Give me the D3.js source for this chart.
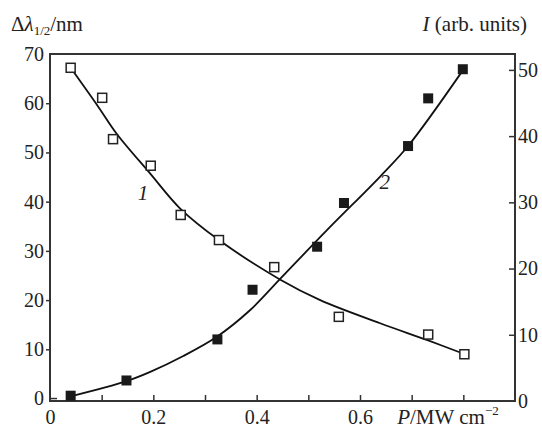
<!DOCTYPE html>
<html>
<head>
<meta charset="utf-8">
<script src="https://cdn.jsdelivr.net/npm/d3@7"></script>
<style>
    body { margin: 0; background: #fff; }
</style>
</head>
<body>
<script>
(function () {

    // curve 1: spectral width (open squares, left axis)
    const power1 = [0.040, 0.101, 0.122, 0.195, 0.253, 0.327, 0.434, 0.559, 0.732, 0.802];
    const width1 = [67.2, 61.1, 52.7, 47.3, 37.3, 32.2, 26.7, 16.6, 13.0, 9.0];
    const fitP1 = [0.040, 0.094, 0.129, 0.194, 0.252, 0.327, 0.445, 0.523, 0.639, 0.732, 0.803];
    const fitW1 = [67.2, 59.2, 53.8, 45.7, 38.6, 32.2, 24.2, 20.0, 15.3, 11.8, 9.0];

    // curve 2: intensity (filled squares, right axis)
    const power2 = [0.040, 0.148, 0.324, 0.392, 0.517, 0.569, 0.693, 0.732, 0.799];
    const inten2 = [0.8, 3.1, 9.3, 16.8, 23.3, 29.9, 38.5, 45.7, 50.1];
    const fitP2 = [0.040, 0.148, 0.194, 0.258, 0.323, 0.387, 0.445, 0.536, 0.639, 0.693, 0.797];
    const fitI2 = [0.7, 3.0, 4.4, 6.8, 9.7, 13.7, 18.4, 25.8, 33.9, 38.5, 49.7];

    const xTicks = [0.1, 0.2, 0.3, 0.4, 0.5, 0.6, 0.7, 0.8];
    const xLabels = [0, 0.2, 0.4, 0.6];
    const leftTicks = [0, 10, 20, 30, 40, 50, 60, 70];
    const rightTicks = [0, 10, 20, 30, 40, 50];

    const serif = '"Liberation Serif", "Times New Roman", Tinos, "DejaVu Serif", "Noto Serif", serif';

    const margin = {top: 54, bottom: 27, left: 50, right: 27};
    const width = 542 - margin.left - margin.right,
        height = 428 - margin.top - margin.bottom;

    const svg = d3.select('body')
        .append('svg')
        .attr('width', 542)
        .attr('height', 428)
        .style('font-family', serif)
        .append('g')
        .attr('transform', 'translate(' + margin.left + ', ' + margin.top + ')');

    const scaleX = d3.scaleLinear().domain([0, 0.9]).range([0, width]);
    const scaleL = d3.scaleLinear().domain([-0.5, 70]).range([height, 0]);
    const scaleR = d3.scaleLinear().domain([0, 52.4]).range([height, 0]);

    const fmt = d => (d === 0 ? '0' : d3.format('.1f')(d));

    // bottom ticks (inside) and labels
    const gxt = svg.append('g')
        .attr('transform', 'translate(0, ' + height + ')')
        .call(d3.axisBottom(scaleX).tickValues(xTicks).tickSize(-6).tickFormat(''));
    const gxl = svg.append('g')
        .attr('transform', 'translate(0, ' + height + ')')
        .call(d3.axisBottom(scaleX).tickValues(xLabels).tickSize(0).tickPadding(9).tickFormat(fmt));

    const gl = svg.append('g')
        .call(d3.axisLeft(scaleL).tickValues(leftTicks.slice(1, 7)).tickSize(4).tickPadding(2));
    const gl0 = svg.append('g')
        .call(d3.axisLeft(scaleL).tickValues([0, 70]).tickSize(0).tickPadding(6));
    // the zero tick points inward
    svg.append('line')
        .attr('x1', 0).attr('x2', 7)
        .attr('y1', scaleL(0)).attr('y2', scaleL(0))
        .attr('stroke', '#333').attr('stroke-width', 1.5);

    const gr = svg.append('g')
        .attr('transform', 'translate(' + width + ', 0)')
        .call(d3.axisRight(scaleR).tickValues(rightTicks).tickSize(-6).tickPadding(3));

    [gxt, gxl, gl, gl0, gr].forEach(g => {
        g.attr('font-family', serif);
        g.select('.domain').remove();
        g.selectAll('line').attr('stroke', '#333').attr('stroke-width', 1.5);
        g.selectAll('text').attr('font-size', 20).attr('fill', '#222').style('font-family', serif);
    });
    gr.selectAll('.tick').filter(d => d === 0).select('line').remove();

    // frame
    svg.append('rect')
        .attr('width', width).attr('height', height)
        .attr('fill', 'none').attr('stroke', '#333').attr('stroke-width', 2);

    // fitted curves
    const line1 = d3.line()
        .x(d => scaleX(d[0])).y(d => scaleL(d[1]))
        .curve(d3.curveCatmullRom.alpha(0.5));
    const line2 = d3.line()
        .x(d => scaleX(d[0])).y(d => scaleR(d[1]))
        .curve(d3.curveCatmullRom.alpha(0.5));

    svg.append('path')
        .attr('d', line1(fitP1.map((p, i) => [p, fitW1[i]])))
        .attr('fill', 'none').attr('stroke', '#111').attr('stroke-width', 1.8);
    svg.append('path')
        .attr('d', line2(fitP2.map((p, i) => [p, fitI2[i]])))
        .attr('fill', 'none').attr('stroke', '#111').attr('stroke-width', 1.8);

    const s = 9;
    svg.selectAll('.open')
        .data(power1.map((p, i) => [p, width1[i]]))
        .enter().append('rect')
        .attr('x', d => scaleX(d[0]) - s / 2)
        .attr('y', d => scaleL(d[1]) - s / 2)
        .attr('width', s).attr('height', s)
        .attr('fill', '#fff').attr('stroke', '#222').attr('stroke-width', 1.5);

    svg.selectAll('.filled')
        .data(power2.map((p, i) => [p, inten2[i]]))
        .enter().append('rect')
        .attr('x', d => scaleX(d[0]) - (s + 1) / 2)
        .attr('y', d => scaleR(d[1]) - (s + 1) / 2)
        .attr('width', s + 1).attr('height', s + 1)
        .attr('fill', '#1a1a1a');

    // curve numbers
    svg.append('text')
        .attr('x', scaleX(0.180)).attr('y', scaleL(40.3))
        .attr('text-anchor', 'middle').attr('font-size', 21).attr('font-style', 'italic')
        .attr('fill', '#222')
        .text('1');
    svg.append('text')
        .attr('x', scaleX(0.648)).attr('y', scaleR(32.0))
        .attr('text-anchor', 'middle').attr('font-size', 21).attr('font-style', 'italic')
        .attr('fill', '#222')
        .text('2');

    // axis titles
    const tl = svg.append('text')
        .attr('x', -39).attr('y', -23).attr('font-size', 21).attr('fill', '#222');
    tl.append('tspan').text('Δ');
    tl.append('tspan').attr('font-style', 'italic').text('λ');
    tl.append('tspan').attr('font-size', 13).attr('dy', 4).text('1/2');
    tl.append('tspan').attr('dy', -4).text('/nm');

    const tr = svg.append('text')
        .attr('x', width + 12).attr('y', -23)
        .attr('text-anchor', 'end').attr('font-size', 21).attr('fill', '#222');
    tr.append('tspan').attr('font-style', 'italic').text('I');
    tr.append('tspan').text(' (arb. units)');

    const tx = svg.append('text')
        .attr('x', scaleX(0.672)).attr('y', height + 23).attr('font-size', 21).attr('fill', '#222');
    tx.append('tspan').attr('font-style', 'italic').text('P');
    tx.append('tspan').text('/MW cm');
    tx.append('tspan').attr('font-size', 13).attr('dy', -9).text('−2');

})();
</script>
</body>
</html>
